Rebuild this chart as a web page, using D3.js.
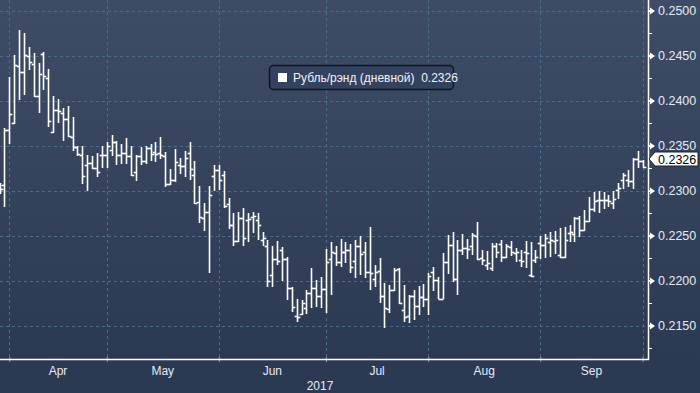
<!DOCTYPE html>
<html><head><meta charset="utf-8">
<script src="https://cdn.jsdelivr.net/npm/d3@7"></script>
<style>html,body{margin:0;padding:0;background:#2c3953;overflow:hidden}</style>
</head><body><svg id="c" width="700" height="393"></svg>
<script>
const dates = [
"2017-03-30","2017-03-31",
"2017-04-03","2017-04-04","2017-04-05","2017-04-06","2017-04-07","2017-04-10","2017-04-11","2017-04-12","2017-04-13","2017-04-14",
"2017-04-17","2017-04-18","2017-04-19","2017-04-20","2017-04-21","2017-04-24","2017-04-25","2017-04-26","2017-04-27","2017-04-28",
"2017-05-01","2017-05-02","2017-05-03","2017-05-04","2017-05-05","2017-05-08","2017-05-09","2017-05-10","2017-05-11","2017-05-12",
"2017-05-15","2017-05-16","2017-05-17","2017-05-18","2017-05-19","2017-05-22","2017-05-23","2017-05-24","2017-05-25","2017-05-26",
"2017-05-29","2017-05-30","2017-05-31",
"2017-06-01","2017-06-02","2017-06-05","2017-06-06","2017-06-07","2017-06-08","2017-06-09","2017-06-12","2017-06-13","2017-06-14",
"2017-06-15","2017-06-16","2017-06-19","2017-06-20","2017-06-21","2017-06-22","2017-06-23","2017-06-26","2017-06-27","2017-06-28",
"2017-06-29","2017-06-30",
"2017-07-03","2017-07-04","2017-07-05","2017-07-06","2017-07-07","2017-07-10","2017-07-11","2017-07-12","2017-07-13","2017-07-14",
"2017-07-17","2017-07-18","2017-07-19","2017-07-20","2017-07-21","2017-07-24","2017-07-25","2017-07-26","2017-07-27","2017-07-28",
"2017-07-31",
"2017-08-01","2017-08-02","2017-08-03","2017-08-04","2017-08-07","2017-08-08","2017-08-09","2017-08-10","2017-08-11","2017-08-14",
"2017-08-15","2017-08-16","2017-08-17","2017-08-18","2017-08-21","2017-08-22","2017-08-23","2017-08-24","2017-08-25","2017-08-28",
"2017-08-29","2017-08-30","2017-08-31",
"2017-09-01","2017-09-04","2017-09-05","2017-09-06","2017-09-07","2017-09-08","2017-09-11","2017-09-12","2017-09-13","2017-09-14",
"2017-09-15","2017-09-18","2017-09-19","2017-09-20","2017-09-21","2017-09-22","2017-09-25","2017-09-26","2017-09-27","2017-09-28",
"2017-09-29","2017-10-02"];

const openV = [0.2299,0.2306,
0.2367,0.2375,0.2438,0.2432,0.2449,0.2441,0.2405,0.2452,0.2425,0.2365,
0.2390,0.2386,0.2379,0.2360,0.2348,0.2339,0.2328,0.2331,0.2325,0.2339,
0.2340,0.2345,0.2354,0.2340,0.2342,0.2338,0.2321,0.2338,0.2333,0.2347,
0.2343,0.2342,0.2338,0.2307,0.2312,0.2328,0.2327,0.2342,0.2317,0.2287,
0.2270,0.2276,0.2316,
0.2323,0.2317,0.2285,0.2262,0.2244,0.2269,0.2267,0.2271,0.2267,0.2245,
0.2238,0.2206,0.2224,0.2234,0.2224,0.2192,0.2161,0.2163,0.2169,0.2186,
0.2192,0.2183,
0.2191,0.2224,0.2231,0.2221,0.2232,0.2234,0.2222,0.2238,0.2232,0.2210,
0.2202,0.2211,0.2183,0.2168,0.2189,0.2213,0.2167,0.2161,0.2183,0.2172,
0.2182,
0.2180,0.2210,0.2201,0.2180,0.2221,0.2239,0.2202,0.2234,0.2236,0.2238,
0.2249,0.2225,0.2217,0.2214,0.2238,0.2241,0.2226,0.2237,0.2231,0.2223,
0.2232,0.2206,0.2223,
0.2242,0.2239,0.2243,0.2244,0.2228,0.2226,0.2253,0.2252,0.2269,0.2256,
0.2266,0.2280,0.2289,0.2290,0.2289,0.2286,0.2301,0.2312,0.2312,0.2311,
0.2335,0.2333];

const highV = [0.2308,0.2369,
0.2426,0.2451,0.2478,0.2475,0.2460,0.2453,0.2442,0.2454,0.2435,0.2405,
0.2402,0.2392,0.2394,0.2382,0.2349,0.2349,0.2339,0.2338,0.2342,0.2349,
0.2354,0.2362,0.2355,0.2352,0.2358,0.2349,0.2339,0.2348,0.2349,0.2352,
0.2354,0.2360,0.2343,0.2324,0.2346,0.2336,0.2344,0.2354,0.2333,0.2305,
0.2286,0.2305,0.2328,
0.2328,0.2322,0.2292,0.2275,0.2276,0.2281,0.2275,0.2276,0.2275,0.2254,
0.2245,0.2238,0.2244,0.2237,0.2226,0.2193,0.2180,0.2178,0.2189,0.2214,
0.2201,0.2204,
0.2235,0.2243,0.2238,0.2246,0.2243,0.2241,0.2245,0.2249,0.2243,0.2259,
0.2217,0.2225,0.2197,0.2195,0.2214,0.2214,0.2195,0.2184,0.2189,0.2194,
0.2196,
0.2208,0.2215,0.2204,0.2231,0.2251,0.2254,0.2245,0.2252,0.2246,0.2253,
0.2265,0.2234,0.2233,0.2242,0.2242,0.2245,0.2241,0.2244,0.2236,0.2234,
0.2244,0.2243,0.2234,
0.2249,0.2252,0.2254,0.2255,0.2258,0.2259,0.2262,0.2271,0.2272,0.2278,
0.2293,0.2298,0.2299,0.2298,0.2295,0.2299,0.2308,0.2319,0.2323,0.2336,
0.2344,0.2334];

const lowV = [0.2296,0.2282,
0.2352,0.2374,0.2401,0.2406,0.2434,0.2404,0.2386,0.2412,0.2371,0.2364,
0.2375,0.2355,0.2360,0.2344,0.2338,0.2307,0.2299,0.2324,0.2315,0.2325,
0.2325,0.2338,0.2328,0.2329,0.2329,0.2316,0.2311,0.2328,0.2329,0.2333,
0.2332,0.2335,0.2304,0.2306,0.2309,0.2318,0.2315,0.2312,0.2285,0.2264,
0.2255,0.2208,0.2299,
0.2301,0.2281,0.2257,0.2238,0.2243,0.2238,0.2243,0.2253,0.2245,0.2238,
0.2193,0.2193,0.2217,0.2199,0.2178,0.2165,0.2154,0.2162,0.2163,0.2169,
0.2171,0.2169,
0.2164,0.2184,0.2216,0.2215,0.2219,0.2208,0.2203,0.2206,0.2203,0.2189,
0.2193,0.2175,0.2147,0.2164,0.2188,0.2174,0.2154,0.2153,0.2156,0.2162,
0.2171,
0.2162,0.2188,0.2179,0.2179,0.2207,0.2198,0.2184,0.2228,0.2224,0.2228,
0.2223,0.2217,0.2212,0.2211,0.2225,0.2221,0.2225,0.2227,0.2221,0.2215,
0.2214,0.2204,0.2220,
0.2224,0.2225,0.2226,0.2229,0.2225,0.2225,0.2243,0.2243,0.2248,0.2255,
0.2265,0.2276,0.2275,0.2280,0.2282,0.2280,0.2291,0.2302,0.2304,0.2302,
0.2325,0.2325];

const closeV = [0.2302,0.2367,
0.2385,0.2440,0.2432,0.2451,0.2443,0.2405,0.2430,0.2427,0.2377,0.2390,
0.2388,0.2379,0.2361,0.2348,0.2341,0.2316,0.2331,0.2325,0.2321,0.2340,
0.2349,0.2354,0.2340,0.2342,0.2338,0.2317,0.2338,0.2333,0.2347,0.2341,
0.2341,0.2339,0.2307,0.2312,0.2332,0.2327,0.2336,0.2324,0.2286,0.2271,
0.2276,0.2295,0.2323,
0.2312,0.2283,0.2262,0.2244,0.2269,0.2247,0.2268,0.2272,0.2262,0.2247,
0.2199,0.2224,0.2222,0.2224,0.2192,0.2171,0.2160,0.2175,0.2186,0.2192,
0.2183,0.2191,
0.2221,0.2232,0.2221,0.2232,0.2234,0.2215,0.2238,0.2229,0.2209,0.2208,
0.2209,0.2183,0.2169,0.2189,0.2212,0.2175,0.2160,0.2183,0.2172,0.2182,
0.2180,
0.2205,0.2201,0.2180,0.2221,0.2240,0.2202,0.2234,0.2236,0.2235,0.2251,
0.2224,0.2223,0.2219,0.2238,0.2232,0.2226,0.2238,0.2232,0.2232,0.2222,
0.2231,0.2205,0.2226,
0.2240,0.2247,0.2245,0.2245,0.2226,0.2245,0.2254,0.2269,0.2256,0.2266,
0.2280,0.2288,0.2290,0.2289,0.2288,0.2291,0.2303,0.2317,0.2311,0.2335,
0.2333,0.2326];

const yTicks = [0.2150,0.2200,0.2250,0.2300,0.2350,0.2400,0.2450,0.2500];
const yMinorTicks = [0.2125,0.2175,0.2225,0.2275,0.2325,0.2375,0.2425,0.2475];
const monthStarts = ["2017-04-03","2017-05-01","2017-06-01","2017-07-03","2017-08-01","2017-09-01","2017-10-02"];
const monthLabels = ["Apr","May","Jun","Jul","Aug","Sep"];
const yearLabel = "2017";
const seriesName = "Рубль/рэнд (дневной)";
const lastValue = 0.2326;

const W = 700, H = 393;
const plotRight = 648, plotBottom = 359;
const svg = d3.select("#c");

const defs = svg.append("defs");
const grad = defs.append("linearGradient").attr("id","bg").attr("x1",0).attr("y1",0).attr("x2",0).attr("y2",1);
grad.append("stop").attr("offset","0%").attr("stop-color","#3f4c65");
grad.append("stop").attr("offset","100%").attr("stop-color","#2c3953");
svg.append("rect").attr("width",W).attr("height",plotBottom).attr("fill","url(#bg)");
svg.append("rect").attr("y",plotBottom).attr("width",W).attr("height",H-plotBottom).attr("fill","#2c3953");

const x = d3.scalePoint().domain(dates).range([-0.45, 642.6]);
const y = d3.scaleLinear().domain([0.21128, 0.251167]).range([plotBottom, 0]);

const gridColor = "#4e6b89";
svg.append("g").selectAll("line").data(yTicks).join("line")
  .attr("x1",0).attr("x2",plotRight)
  .attr("y1",d=>Math.round(y(d))+0.5).attr("y2",d=>Math.round(y(d))+0.5)
  .attr("stroke",gridColor).attr("stroke-dasharray","3,3").attr("stroke-width",1);
svg.append("g").selectAll("line").data(monthStarts).join("line")
  .attr("x1",d=>Math.round(x(d))+0.5).attr("x2",d=>Math.round(x(d))+0.5)
  .attr("y1",0).attr("y2",plotBottom)
  .attr("stroke",gridColor).attr("stroke-dasharray","3,3").attr("stroke-width",1);

// OHLC bars
const bars = svg.append("g").attr("stroke","#ffffff").attr("stroke-width",1.6);
dates.forEach((d,i)=>{
  const cx = Math.round(x(d)) + 0.5;
  bars.append("line").attr("x1",cx).attr("x2",cx).attr("y1",Math.round(y(highV[i]))).attr("y2",Math.round(y(lowV[i])));
  const yo = Math.round(y(openV[i])) + 0.5, yc = Math.round(y(closeV[i])) + 0.5;
  bars.append("line").attr("x1",cx-2.8).attr("x2",cx).attr("y1",yo).attr("y2",yo);
  bars.append("line").attr("x1",cx).attr("x2",cx+2.8).attr("y1",yc).attr("y2",yc);
});

// bottom axis
const xAxis = d3.axisBottom(x).tickValues(monthStarts).tickFormat("").tickSizeInner(3).tickSizeOuter(0);
const gx = svg.append("g").attr("transform",`translate(0,${plotBottom})`).call(xAxis);
gx.select(".domain").remove();
gx.selectAll(".tick line").attr("stroke","#8fa3bb").attr("y1",-2).attr("y2",3);
svg.append("line").attr("x1",0).attr("x2",plotRight+1).attr("y1",plotBottom+0.5).attr("y2",plotBottom+0.5)
  .attr("stroke","#ffffff").attr("stroke-width",1.5);

const labelFont = "Liberation Sans, Arial, sans-serif";
const txtColor = "#e4ebf5";
svg.append("g").selectAll("text").data(monthLabels).join("text")
  .attr("x",(d,i)=>(x(monthStarts[i])+x(monthStarts[i+1]))/2)
  .attr("y",374.5).attr("text-anchor","middle")
  .attr("font-family",labelFont).attr("font-size",12).attr("fill",txtColor).text(d=>d);
svg.append("text").attr("x",320).attr("y",389.5).attr("text-anchor","middle")
  .attr("font-family",labelFont).attr("font-size",12).attr("fill",txtColor).text(yearLabel);

// right axis
const yAxis = d3.axisRight(y).tickValues(yTicks).tickFormat(d3.format(".4f")).tickSize(0).tickPadding(10);
const gy = svg.append("g").attr("transform",`translate(${plotRight},0)`).call(yAxis);
gy.select(".domain").remove();
gy.selectAll(".tick text").attr("font-family",labelFont).attr("font-size",12.5).attr("fill",txtColor);
gy.selectAll(".tick").append("path").attr("d","M0,-1 L2,-1 L2,-3.5 L7,0 L2,3.5 L2,1 L0,1 Z").attr("fill","#ffffff");
svg.append("g").selectAll("line").data(yMinorTicks).join("line")
  .attr("x1",plotRight).attr("x2",plotRight+4)
  .attr("y1",d=>Math.round(y(d))+0.5).attr("y2",d=>Math.round(y(d))+0.5)
  .attr("stroke","#ffffff").attr("stroke-width",1);
svg.append("line").attr("x1",plotRight+0.5).attr("x2",plotRight+0.5).attr("y1",0).attr("y2",plotBottom+1)
  .attr("stroke","#ffffff").attr("stroke-width",1.5);

// last value label
const yl = Math.round(y(lastValue)) - 8;
svg.append("path").attr("d",`M${plotRight+1},${yl} L${plotRight+7},${yl-7} L698,${yl-7} L698,${yl+7} L${plotRight+7},${yl+7} Z`)
  .attr("fill","#ffffff").attr("stroke","#1a2233").attr("stroke-width",1);
svg.append("text").attr("x",plotRight+10).attr("y",yl).attr("dy","0.36em")
  .attr("font-family",labelFont).attr("font-size",12.5).attr("fill","#000000").text(d3.format(".4f")(lastValue));

// legend
const lg = svg.append("g");
lg.append("rect").attr("x",269.5).attr("y",65.5).attr("width",184).attr("height",24).attr("rx",4)
  .attr("fill","#344260").attr("stroke","#0e1522").attr("stroke-width",1.5);
lg.append("rect").attr("x",278).attr("y",73).attr("width",9).attr("height",9).attr("fill","#ffffff");
lg.append("text").attr("x",293).attr("y",78).attr("dy","0.35em")
  .attr("font-family",labelFont).attr("font-size",12).attr("fill","#f0f3f8")
  .text(seriesName + "  " + d3.format(".4f")(lastValue)).attr("xml:space","preserve").style("white-space","pre");
</script></body></html>
